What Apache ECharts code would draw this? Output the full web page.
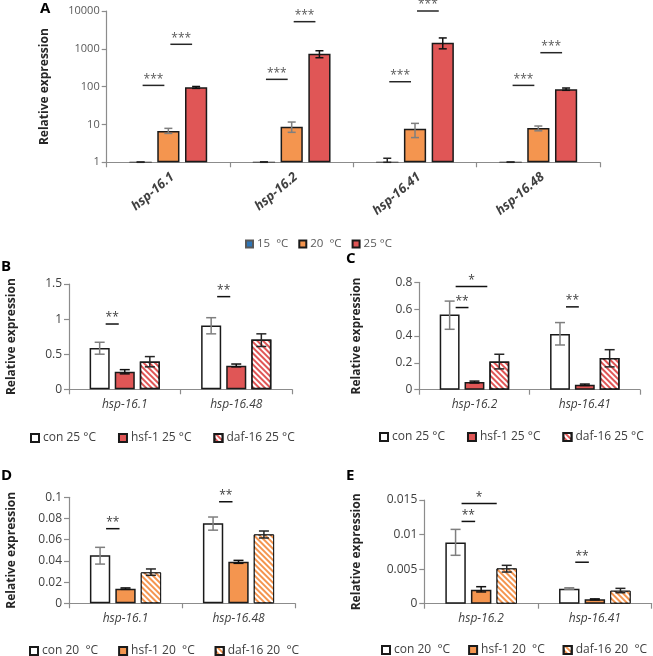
<!DOCTYPE html>
<html><head><meta charset="utf-8">
<script src="https://cdn.jsdelivr.net/npm/echarts@6/dist/echarts.min.js"></script>
<style>html,body{margin:0;padding:0;background:#fff}#c{width:653px;height:656px}</style>
</head><body><div id="c"></div>
<script>
// ---------- Panel A (log scale) ----------
const genesA = ['hsp-16.1', 'hsp-16.2', 'hsp-16.41', 'hsp-16.48'];
const namesA = ['15  °C', '20  °C', '25 °C'];
const a15 = [1, 1, 1, 1];
const a15Lo = [1, 1, 1, 1];
const a15Hi = [1.02, 1.03, 1.28, 1.02];
const a20 = [6.7, 8.7, 7.7, 8.1];
const a20Lo = [5.8, 6.2, 4.5, 6.8];
const a20Hi = [7.9, 11.6, 10.7, 9.1];
const a25 = [96, 745, 1450, 85];
const a25Lo = [90, 582, 1000, 80];
const a25Hi = [101, 890, 1940, 92];
const ticksA = [1, 10, 100, 1000, 10000];
// [category, fromBar, toBar, height, label]
const sigA = [[0,0,1,108,'***'],[0,1,2,1318,'***'],[1,0,1,156,'***'],[1,1,2,5220,'***'],
              [2,0,1,135,'***'],[2,1,2,10000,'***'],[3,0,1,108,'***'],[3,1,2,790,'***']];

// ---------- Panel B ----------
const genesB = ['hsp-16.1', 'hsp-16.48'];
const names25 = ['con 25 °C', 'hsf-1 25 °C', 'daf-16 25 °C'];
const bCon = [0.59, 0.91], bConLo = [0.50, 0.79], bConHi = [0.67, 1.02];
const bHsf = [0.25, 0.337], bHsfLo = [0.22, 0.32], bHsfHi = [0.28, 0.36];
const bDaf = [0.395, 0.71], bDafLo = [0.32, 0.61], bDafHi = [0.466, 0.79];
const sigB = [[0,0,1,0.93,'**'],[1,0,1,1.32,'**']];

// ---------- Panel C ----------
const genesC = ['hsp-16.2', 'hsp-16.41'];
const cCon = [0.56, 0.415], cConLo = [0.45, 0.333], cConHi = [0.66, 0.50];
const cHsf = [0.057, 0.037], cHsfLo = [0.050, 0.031], cHsfHi = [0.064, 0.042];
const cDaf = [0.21, 0.236], cDafLo = [0.155, 0.17], cDafHi = [0.264, 0.298];
const sigC = [[0,0,1,0.612,'**'],[0,0,2,0.769,'*'],[1,0,1,0.617,'**']];

// ---------- Panel D ----------
const genesD = ['hsp-16.1', 'hsp-16.48'];
const names20 = ['con 20  °C', 'hsf-1 20  °C', 'daf-16 20  °C'];
const dCon = [0.0453, 0.0755], dConLo = [0.037, 0.069], dConHi = [0.0528, 0.0814];
const dHsf = [0.0138, 0.0392], dHsfLo = [0.0132, 0.0377], dHsfHi = [0.0145, 0.0405];
const dDaf = [0.0292, 0.065], dDafLo = [0.0264, 0.0616], dDafHi = [0.0324, 0.0682];
const sigD = [[0,0,1,0.0704,'**'],[1,0,1,0.0958,'**']];

// ---------- Panel E ----------
const genesE = ['hsp-16.2', 'hsp-16.41'];
const eCon = [0.00887, 0.00217], eConLo = [0.0070, 0.0021], eConHi = [0.01075, 0.0023];
const eHsf = [0.00202, 0.00063], eHsfLo = [0.0017, 0.00055], eHsfHi = [0.00246, 0.0007];
const eDaf = [0.00511, 0.00188], eDafLo = [0.00458, 0.00159], eDafHi = [0.00555, 0.00222];
const sigE = [[0,0,1,0.0119,'**'],[0,0,2,0.0145,'*'],[1,0,1,0.006,'**']];

// ---------- styling ----------
const FONT = "'Open Sans', 'Liberation Sans', sans-serif";
const BLUE = '#2E75B6', ORANGE = '#F4954F', RED = '#E05656';
const AXIS = '#8c8c8c', TXT = '#404040';
const BAR_W = 0.18, BAR_GAP = 0.25;
const hatch = {symbol: 'rect', symbolSize: 1, dashArrayX: [1, 0], dashArrayY: [2, 2], rotation: Math.PI / 4, color: '#ffffff'};

function barOffset(k, n, catW) { return (k - (n - 1) / 2) * catW * BAR_W * (1 + BAR_GAP); }

function barSeries(g, name, data, color, extra) {
  return Object.assign({
    type: 'bar', name: name, xAxisIndex: g, yAxisIndex: g, data: data,
    barWidth: (BAR_W * 100) + '%', barGap: (BAR_GAP * 100) + '%',
    itemStyle: {color: color, borderColor: '#1a1a1a', borderWidth: 1.5},
    emphasis: {disabled: true}, z: 2
  }, extra || {});
}

function errSeries(g, k, lo, hi, color, cap) {
  return {
    type: 'custom', xAxisIndex: g, yAxisIndex: g, z: 5, silent: true, clip: false,
    data: lo.map((v, i) => [i, v, hi[i]]),
    encode: {x: 0, y: [1, 2]},
    renderItem(params, api) {
      const cat = api.value(0);
      const catW = api.size([1, 0])[0];
      const off = barOffset(k, 3, catW);
      const p1 = api.coord([cat, api.value(1)]);
      const p2 = api.coord([cat, api.value(2)]);
      const x = p1[0] + off;
      const st = {stroke: color, lineWidth: 1.5};
      return {type: 'group', children: [
        {type: 'line', shape: {x1: x, y1: p1[1], x2: x, y2: p2[1]}, style: st},
        {type: 'line', shape: {x1: x - cap, y1: p1[1], x2: x + cap, y2: p1[1]}, style: st},
        {type: 'line', shape: {x1: x - cap, y1: p2[1], x2: x + cap, y2: p2[1]}, style: st}
      ]};
    }
  };
}

function sigSeries(g, sig, padL, padR, padR2, lineColor, textColor, fs) {
  return {
    type: 'custom', xAxisIndex: g, yAxisIndex: g, z: 6, silent: true, clip: false,
    data: sig.map(s => [s[0], s[3], s[1], s[2]]),
    encode: {x: 0, y: 1},
    renderItem(params, api) {
      const cat = api.value(0), f = api.value(2), t = api.value(3);
      const catW = api.size([1, 0])[0];
      const p = api.coord([cat, api.value(1)]);
      const x1 = p[0] + barOffset(f, 3, catW) + padL;
      const x2 = p[0] + barOffset(t, 3, catW) - (t - f > 1 ? padR2 : padR);
      return {type: 'group', children: [
        {type: 'line', shape: {x1: x1, y1: p[1], x2: x2, y2: p[1]}, style: {stroke: lineColor, lineWidth: 1.5}},
        {type: 'text', x: (x1 + x2) / 2, y: p[1] - 6,
         style: {text: sig[params.dataIndex][4], fill: textColor, fontSize: fs, fontFamily: FONT,
                 align: 'center', verticalAlign: 'middle'}}
      ]};
    }
  };
}

function xAx(g, cats, label) {
  return {
    type: 'category', gridIndex: g, data: cats,
    axisLine: {lineStyle: {color: AXIS, width: 1.2}},
    axisTick: {show: true, length: 5, lineStyle: {color: AXIS, width: 1.2}},
    axisLabel: Object.assign({color: TXT, fontFamily: FONT, fontSize: 12, fontStyle: 'italic', margin: 9, interval: 0}, label || {}),
    splitLine: {show: false}
  };
}

function yAx(g, extra, nameGap, labelSize) {
  return Object.assign({
    type: 'value', gridIndex: g,
    name: 'Relative expression', nameLocation: 'middle', nameGap: nameGap, nameRotate: 90,
    nameTextStyle: {color: '#262626', fontFamily: FONT, fontSize: 12, fontWeight: 'bold'},
    axisLine: {show: true, lineStyle: {color: AXIS, width: 1.2}},
    axisTick: {show: true, length: 5, lineStyle: {color: AXIS, width: 1.2}},
    axisLabel: {color: TXT, fontFamily: FONT, fontSize: labelSize || 12, margin: 7},
    splitLine: {show: false}
  }, extra);
}

function legendAt(names, left, top, gap, fs, color, iw) {
  return {
    data: names, left: left, top: top, width: 320, orient: 'horizontal', itemGap: gap,
    icon: 'rect', itemWidth: iw || 8, itemHeight: iw || 8, padding: 0, selectedMode: false,
    textStyle: {color: color || TXT, fontFamily: FONT, fontSize: fs || 12, padding: [0, 0, 0, -1]}
  };
}

const chart = echarts.init(document.getElementById('c'), null, {renderer: 'canvas'});

const hatchRedStyle = {itemStyle: {color: RED, borderColor: '#1a1a1a', borderWidth: 1.5, decal: hatch}};
const hatchOrStyle = {itemStyle: {color: ORANGE, borderColor: '#1a1a1a', borderWidth: 1, decal: hatch}};
const whiteStyle = {itemStyle: {color: '#ffffff', borderColor: '#1a1a1a', borderWidth: 1.5}};
const lowStyle = {itemStyle: {color: BLUE, borderColor: '#595959', borderWidth: 1}};

const titleStyle = {fontFamily: FONT, fontSize: 15, fontWeight: 'bold', color: '#000'};

const option = {
  animation: false,
  backgroundColor: '#ffffff',
  title: [
    {text: 'A', left: 40, top: 1, padding: 0, textStyle: titleStyle},
    {text: 'B', left: 1, top: 259, padding: 0, textStyle: titleStyle},
    {text: 'C', left: 346, top: 251, padding: 0, textStyle: titleStyle},
    {text: 'D', left: 1, top: 468, padding: 0, textStyle: titleStyle},
    {text: 'E', left: 346, top: 468, padding: 0, textStyle: titleStyle}
  ],
  grid: [
    {left: 106.7, right: 53, top: 11, bottom: 493.7, outerBoundsMode: 'none'},
    {left: 69, right: 361, top: 284, bottom: 266.7, outerBoundsMode: 'none'},
    {left: 419.3, right: 13, top: 282.3, bottom: 266.3, outerBoundsMode: 'none'},
    {left: 69, right: 358, top: 497.3, bottom: 52.7, outerBoundsMode: 'none'},
    {left: 424.3, right: 1.3, top: 500, bottom: 52.3, outerBoundsMode: 'none'}
  ],
  legend: [
    legendAt(namesA, 245, 238, 10, 11.5, '#595959', 7),
    legendAt(names25, 30, 432, 22),
    legendAt(names25, 379, 431, 22),
    legendAt(names20, 29, 645, 20),
    legendAt(names20, 381, 644, 18)
  ],
  xAxis: [
    xAx(0, genesA, {rotate: 40, fontWeight: 'bold', fontSize: 13, margin: 8, verticalAlign: 'top'}),
    xAx(1, genesB), xAx(2, genesC), xAx(3, genesD), xAx(4, genesE)
  ],
  yAxis: [
    yAx(0, {type: 'log', logBase: 10, min: ticksA[0], max: ticksA[ticksA.length - 1],
            axisLabel: {color: '#595959', fontFamily: FONT, fontSize: 11, margin: 7,
                        formatter: v => String(Math.round(v))}}, 56),
    yAx(1, {min: 0, max: 1.5, interval: 0.5}, 51),
    yAx(2, {min: 0, max: 0.8, interval: 0.2}, 57),
    yAx(3, {min: 0, max: 0.1, interval: 0.02}, 51),
    yAx(4, {min: 0, max: 0.015, interval: 0.005}, 62)
  ],
  series: [
    // A
    barSeries(0, namesA[0], a15, BLUE, lowStyle),
    barSeries(0, namesA[1], a20, ORANGE),
    barSeries(0, namesA[2], a25, RED),
    errSeries(0, 0, a15Lo, a15Hi, '#262626', 4),
    errSeries(0, 1, a20Lo, a20Hi, '#7f7f7f', 4),
    errSeries(0, 2, a25Lo, a25Hi, '#111111', 4),
    sigSeries(0, sigA, 2, 4, 4, '#262626', '#595959', 12),
    // B
    barSeries(1, names25[0], bCon, '#fff', whiteStyle),
    barSeries(1, names25[1], bHsf, RED),
    barSeries(1, names25[2], bDaf, RED, hatchRedStyle),
    errSeries(1, 0, bConLo, bConHi, '#7f7f7f', 5),
    errSeries(1, 1, bHsfLo, bHsfHi, '#111111', 5),
    errSeries(1, 2, bDafLo, bDafHi, '#262626', 5),
    sigSeries(1, sigB, 6, 6, 11, '#111111', TXT, 12),
    // C
    barSeries(2, names25[0], cCon, '#fff', whiteStyle),
    barSeries(2, names25[1], cHsf, RED),
    barSeries(2, names25[2], cDaf, RED, hatchRedStyle),
    errSeries(2, 0, cConLo, cConHi, '#7f7f7f', 5),
    errSeries(2, 1, cHsfLo, cHsfHi, '#111111', 5),
    errSeries(2, 2, cDafLo, cDafHi, '#262626', 5),
    sigSeries(2, sigC, 6, 6, 12, '#111111', TXT, 12),
    // D
    barSeries(3, names20[0], dCon, '#fff', whiteStyle),
    barSeries(3, names20[1], dHsf, ORANGE),
    barSeries(3, names20[2], dDaf, ORANGE, hatchOrStyle),
    errSeries(3, 0, dConLo, dConHi, '#7f7f7f', 5),
    errSeries(3, 1, dHsfLo, dHsfHi, '#111111', 5),
    errSeries(3, 2, dDafLo, dDafHi, '#262626', 5),
    sigSeries(3, sigD, 6, 6, 11, '#111111', TXT, 12),
    // E
    barSeries(4, names20[0], eCon, '#fff', whiteStyle),
    barSeries(4, names20[1], eHsf, ORANGE),
    barSeries(4, names20[2], eDaf, ORANGE, hatchOrStyle),
    errSeries(4, 0, eConLo, eConHi, '#7f7f7f', 5),
    errSeries(4, 1, eHsfLo, eHsfHi, '#111111', 5),
    errSeries(4, 2, eDafLo, eDafHi, '#262626', 5),
    sigSeries(4, sigE, 6, 6, 10, '#111111', TXT, 12)
  ]
};
chart.setOption(option);
</script>
</body></html>
